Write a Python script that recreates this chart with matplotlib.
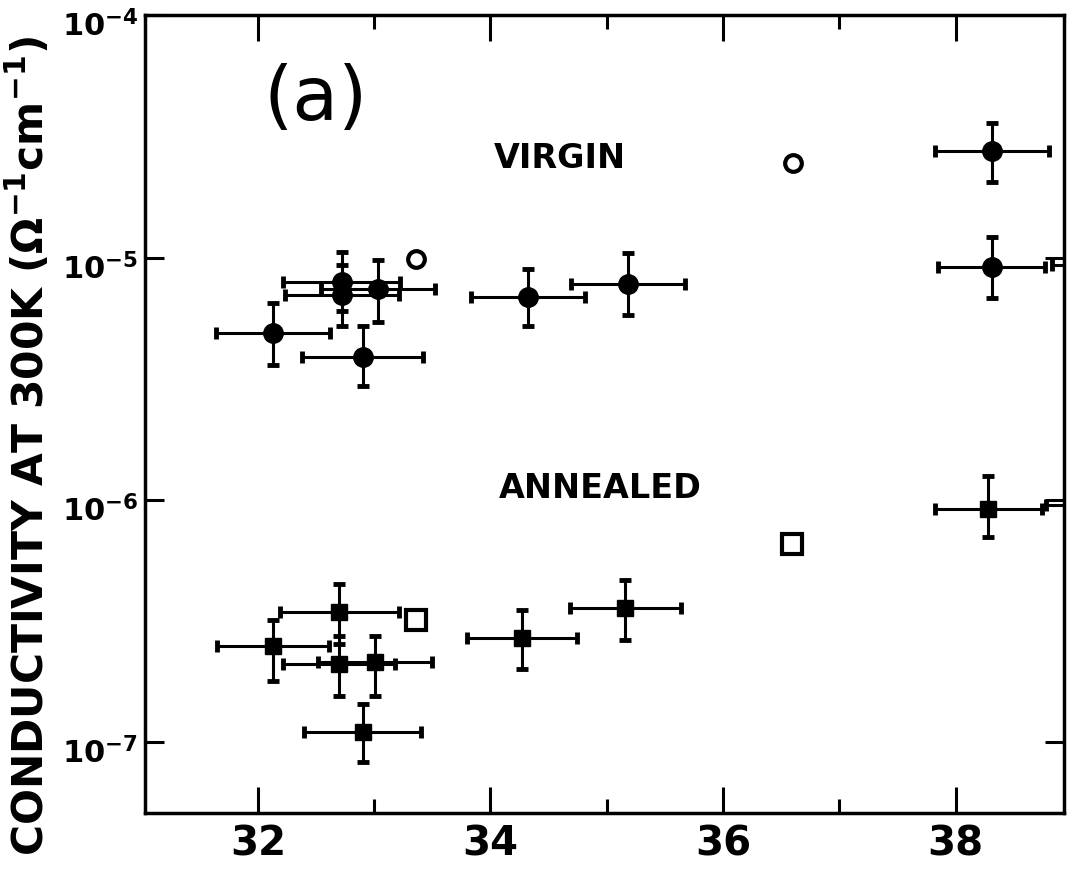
import matplotlib
matplotlib.use("Agg")
from matplotlib import pyplot as plt
import matplotlib.transforms as mtransforms
import numpy as np

# Virgin samples (filled circles), last one sits just past the right edge
virgin_x = [32.13, 32.72, 32.72, 33.03, 32.90, 34.32, 35.18, 38.31, 38.31, 39.32]
virgin_y = [4.9e-6, 7.9e-6, 7.0e-6, 7.4e-6, 3.9e-6, 6.9e-6, 7.8e-6, 2.75e-5, 9.1e-6, 9.3e-6]
virgin_xerr = [0.49, 0.50, 0.49, 0.49, 0.52, 0.49, 0.49, 0.49, 0.46, 0.49]
virgin_hi = [6.5e-6, 1.05e-5, 9.3e-6, 9.8e-6, 5.2e-6, 9.0e-6, 1.04e-5, 3.6e-5, 1.21e-5, 1.2e-5]
virgin_lo = [3.6e-6, 6.0e-6, 5.2e-6, 5.4e-6, 2.95e-6, 5.2e-6, 5.8e-6, 2.05e-5, 6.8e-6, 7.0e-6]

# Annealed samples (filled squares)
annealed_x = [32.13, 32.70, 32.70, 33.01, 32.90, 34.27, 35.16, 38.28, 39.27]
annealed_y = [2.5e-7, 3.45e-7, 2.1e-7, 2.14e-7, 1.1e-7, 2.7e-7, 3.57e-7, 9.2e-7, 9.5e-7]
annealed_xerr = [0.48, 0.51, 0.48, 0.49, 0.50, 0.47, 0.48, 0.46, 0.49]
annealed_hi = [3.2e-7, 4.5e-7, 2.75e-7, 2.73e-7, 1.44e-7, 3.5e-7, 4.65e-7, 1.25e-6, 1.25e-6]
annealed_lo = [1.79e-7, 2.55e-7, 1.55e-7, 1.55e-7, 8.3e-8, 2.0e-7, 2.63e-7, 7.0e-7, 7.0e-7]

# open symbols, no error bars
open_virgin_x = [33.36, 36.60]
open_virgin_y = [9.9e-6, 2.45e-5]
open_annealed_x = [33.36, 36.59]
open_annealed_y = [3.2e-7, 6.6e-7]

xticks_major = [32, 34, 36, 38]
xticks_minor = [33, 35, 37]
yticks = [1e-7, 1e-6, 1e-5, 1e-4]
ytick_labels = [r'$\mathbf{10^{-7}}$', r'$\mathbf{10^{-6}}$', r'$\mathbf{10^{-5}}$', r'$\mathbf{10^{-4}}$']

fig = plt.figure(figsize=(10.67, 8.69), dpi=100)
ax = fig.add_axes([0.136, 0.0645, 0.861, 0.918])

def asym(y, lo, hi):
    y = np.array(y)
    return [y - np.array(lo), np.array(hi) - y]

ebkw = dict(fmt='none', ecolor='black', elinewidth=2.2, capsize=4, capthick=3.5)
ax.errorbar(virgin_x, virgin_y, xerr=virgin_xerr, yerr=asym(virgin_y, virgin_lo, virgin_hi), **ebkw)
ax.errorbar(annealed_x, annealed_y, xerr=annealed_xerr, yerr=asym(annealed_y, annealed_lo, annealed_hi), **ebkw)
ax.plot(virgin_x, virgin_y, 'o', color='black', ms=14)
ax.plot(annealed_x, annealed_y, 's', color='black', ms=11)
ax.plot(open_virgin_x, open_virgin_y, 'o', mfc='white', mec='black', ms=12, mew=3)
ax.plot(open_annealed_x, open_annealed_y, 's', mfc='white', mec='black', ms=15, mew=3)

ax.set_yscale('log')
ax.set_xlim(31.03, 38.93)
ax.set_ylim(5.1e-8, 1e-4)

ax.set_xticks(xticks_major)
ax.set_xticks(xticks_minor, minor=True)
ax.set_xticklabels([str(t) for t in xticks_major], fontsize=29, fontweight='bold')
ax.set_yticks(yticks)
ax.set_yticklabels(ytick_labels, fontsize=22)
ax.yaxis.set_minor_locator(matplotlib.ticker.NullLocator())

ax.tick_params(which='both', direction='in', top=True, right=True, width=2.2, color='black')
ax.tick_params(axis='x', which='major', length=19, pad=8)
ax.tick_params(axis='x', which='minor', length=10)
ax.tick_params(axis='y', which='major', length=14, pad=5)
for s in ax.spines.values():
    s.set_linewidth(2.5)

# labels sit a little below their ticks in the original
shift = mtransforms.ScaledTranslation(0, -6 / 72, fig.dpi_scale_trans)
for lab in ax.get_yticklabels():
    lab.set_transform(lab.get_transform() + shift)

ax.set_ylabel(r'CONDUCTIVITY AT 300K ($\mathbf{\Omega^{-1}cm^{-1}}$)', fontsize=30.5, fontweight='bold')
ax.yaxis.set_label_coords(-0.101, 0.46)

ax.text(32.5, 4.5e-5, '(a)', fontsize=54, ha='center', va='center')
ax.text(34.6, 2.56e-5, 'VIRGIN', fontsize=24, fontweight='bold', ha='center', va='center')
ax.text(34.94, 1.11e-6, 'ANNEALED', fontsize=24, fontweight='bold', ha='center', va='center')

fig.savefig('out.png', dpi=100)
